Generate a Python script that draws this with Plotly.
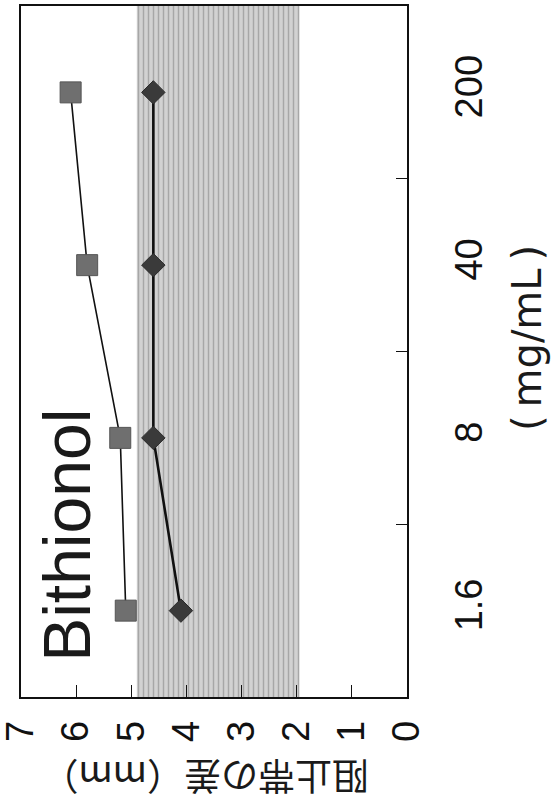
import plotly.graph_objects as go

# Concentrations (mg/mL) and inhibition-zone differences (mm)
conc_labels = ["1.6", "8", "40", "200"]
series_square = [5.1, 5.2, 5.8, 6.1]
series_diamond = [4.1, 4.6, 4.6, 4.6]
value_ticks = [0, 1, 2, 3, 4, 5, 6, 7]
band_low, band_high = 1.95, 4.9

pos = list(range(len(conc_labels)))
LATIN = "Liberation Sans, Arial, sans-serif"
WIDE = "DejaVu Sans, sans-serif"
CJK = "Noto Sans CJK JP, sans-serif"

fig = go.Figure()

# stippled reference band
fig.add_trace(go.Scatter(
    x=[band_low, band_high, band_high, band_low, band_low],
    y=[-0.5, -0.5, 3.5, 3.5, -0.5],
    mode="lines", line=dict(width=0), fill="toself",
    fillcolor="#cfcfcf",
    fillpattern=dict(shape="|", fgcolor="#7c7c7c", bgcolor="#d2d2d2",
                     size=5, solidity=0.3),
    hoverinfo="skip", showlegend=False,
))

fig.add_trace(go.Scatter(
    x=series_square, y=pos, mode="lines+markers",
    line=dict(color="#111111", width=1.6),
    marker=dict(symbol="square", size=21, color="#6f6f6f",
                line=dict(color="#555555", width=1)),
    showlegend=False,
))

fig.add_trace(go.Scatter(
    x=series_diamond, y=pos, mode="lines+markers",
    line=dict(color="#111111", width=2.6),
    marker=dict(symbol="diamond", size=18, color="#3a3a3a",
                line=dict(color="#2a2a2a", width=1)),
    showlegend=False,
))

fig.update_layout(
    width=556, height=805,
    margin=dict(l=21, r=149, t=6, b=108),
    paper_bgcolor="white", plot_bgcolor="white",
    font=dict(family=LATIN, color="#111111"),
    xaxis=dict(
        range=[7, 0], tickmode="array", tickvals=value_ticks,
        ticks="inside", ticklen=12, tickwidth=1.3, tickcolor="#111111",
        tickangle=-90, tickfont=dict(size=38, family=LATIN),
        ticklabelstandoff=7, ticklabeloverflow="allow", automargin=False,
        showline=True, linecolor="#111111", linewidth=1.5, mirror=True,
        showgrid=False, zeroline=False,
    ),
    yaxis=dict(
        range=[-0.5, 3.5], side="right",
        tickmode="array", tickvals=pos, ticktext=conc_labels,
        ticks="", tickangle=-90, tickfont=dict(size=38, family=LATIN),
        ticklabelstandoff=28, ticklabeloverflow="allow", automargin=False,
        minor=dict(tickmode="array", tickvals=[0.5, 1.5, 2.5],
                   ticks="inside", ticklen=11, tickwidth=1.3,
                   tickcolor="#111111", showgrid=False),
        showline=True, linecolor="#111111", linewidth=1.5, mirror=True,
        showgrid=False, zeroline=False,
    ),
    annotations=[
        dict(text="Bithionol", x=6.18, y=0.434, xref="x", yref="y",
             textangle=-90, showarrow=False, xanchor="center", yanchor="middle",
             font=dict(size=66, family=LATIN, color="#1a1a1a")),
        dict(text="(\u2009mg/mL\u2009)", x=1.311, y=0.5195, xref="paper", yref="paper",
             textangle=-90, showarrow=False, xanchor="center", yanchor="middle",
             font=dict(size=40, family=WIDE, color="#1a1a1a")),
        dict(text="阻止帯の差（mm）", x=0.4767, y=-0.118, xref="paper", yref="paper",
             textangle=180, showarrow=False, xanchor="center", yanchor="middle",
             font=dict(size=37, family=CJK, color="#1a1a1a")),
    ],
)

fig.write_html("out.html")
